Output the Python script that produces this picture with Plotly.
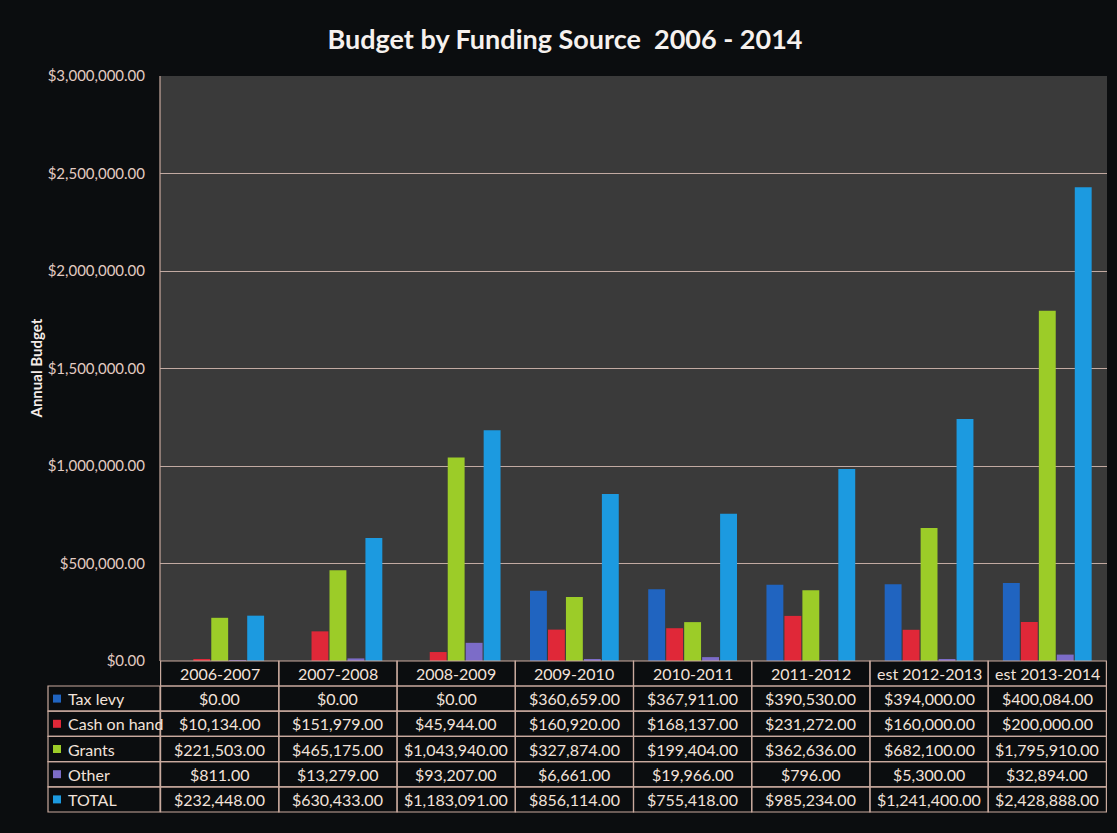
import plotly.graph_objects as go

categories = ["2006-2007", "2007-2008", "2008-2009", "2009-2010", "2010-2011",
              "2011-2012", "est 2012-2013", "est 2013-2014"]
tax_levy = [0, 0, 0, 360659, 367911, 390530, 394000, 400084]
cash_on_hand = [10134, 151979, 45944, 160920, 168137, 231272, 160000, 200000]
grants = [221503, 465175, 1043940, 327874, 199404, 362636, 682100, 1795910]
other = [811, 13279, 93207, 6661, 19966, 796, 5300, 32894]
total = [232448, 630433, 1183091, 856114, 755418, 985234, 1241400, 2428888]

series_names = ["Tax levy", "Cash on hand", "Grants", "Other", "TOTAL"]
series_values = [tax_levy, cash_on_hand, grants, other, total]
series_colors = ["#2064c0", "#e02838", "#9ccc28", "#7c6cc8", "#1c9ae0"]

y_ticks = [0, 500000, 1000000, 1500000, 2000000, 2500000, 3000000]

W, H = 1117, 833
L, R, T, B = 160, 1107, 76, 661
FONT = "Lato"
TXT = "#f2e2da"
LINE = "#c9aa9e"
TSIZE = 16

def py(p):
    return (B - p) / (B - T)

def px(p):
    return (p - L) / (R - L)

fig = go.Figure()
for name, vals, col in zip(series_names, series_values, series_colors):
    fig.add_trace(go.Bar(x=categories, y=vals, name=name,
                         marker=dict(color=col, line=dict(width=0))))

shapes = []
annotations = []
n = len(categories)
header_top, header_bot = B, 686
row_h = (812 - header_bot) / len(series_names)

for i in range(n):
    shapes.append(dict(type="rect", xref="x", yref="paper",
                       x0=i - 0.5, x1=i + 0.5, y0=py(header_bot), y1=py(header_top),
                       line=dict(color=LINE, width=1.2), fillcolor="rgba(0,0,0,0)"))
    annotations.append(dict(x=categories[i], xref="x", yref="paper",
                            y=py((header_top + header_bot) / 2), text=categories[i],
                            xanchor="center", yanchor="middle",
                            showarrow=False, font=dict(family=FONT, size=TSIZE, color=TXT)))

for r, (name, vals, col) in enumerate(zip(series_names, series_values, series_colors)):
    top = header_bot + r * row_h
    bot = top + row_h
    mid = (top + bot) / 2
    shapes.append(dict(type="rect", xref="paper", yref="paper",
                       x0=px(48), x1=0, y0=py(bot), y1=py(top),
                       line=dict(color=LINE, width=1.2), fillcolor="rgba(0,0,0,0)"))
    shapes.append(dict(type="rect", xref="paper", yref="paper",
                       x0=px(53), x1=px(61), y0=py(mid + 4), y1=py(mid - 4),
                       line=dict(width=0), fillcolor=col))
    annotations.append(dict(x=px(66), xref="paper", yref="paper", y=py(mid),
                            text=name, xanchor="left", yanchor="middle", showarrow=False,
                            font=dict(family=FONT, size=TSIZE, color=TXT)))
    for i in range(n):
        shapes.append(dict(type="rect", xref="x", yref="paper",
                           x0=i - 0.5, x1=i + 0.5, y0=py(bot), y1=py(top),
                           line=dict(color=LINE, width=1.2), fillcolor="rgba(0,0,0,0)"))
        annotations.append(dict(x=categories[i], xref="x", yref="paper", y=py(mid),
                                text="${:,.2f}".format(vals[i]), showarrow=False,
                                xanchor="center", yanchor="middle",
                                font=dict(family=FONT, size=TSIZE, color=TXT)))

shapes.append(dict(type="line", xref="paper", yref="paper", x0=0, x1=0, y0=0, y1=1,
                   line=dict(color=LINE, width=1.2)))

annotations.append(dict(x=px(35), y=0.5, xref="paper", yref="paper",
                        text="<b>Annual Budget</b>", textangle=-90, showarrow=False,
                        xanchor="center", yanchor="middle",
                        font=dict(family=FONT, size=15, color="#f4ece8")))

fig.update_layout(
    width=W, height=H,
    margin=dict(l=L, r=W - R, t=T, b=H - B, pad=0),
    paper_bgcolor="#0b0d0f",
    plot_bgcolor="#3a3a3a",
    barmode="group", bargap=0.24, bargroupgap=0.06,
    showlegend=False,
    title=dict(text="<b>Budget by Funding Source  2006 - 2014</b>",
               xref="container", x=565 / W, xanchor="center",
               y=1 - 40 / H, yanchor="middle",
               font=dict(family=FONT, size=27, color="#f6f1ee")),
    xaxis=dict(showticklabels=False, showgrid=False, zeroline=False, ticks=""),
    yaxis=dict(range=[0, 3000000], tickvals=y_ticks,
               ticktext=["${:,.2f}".format(v) for v in y_ticks],
               showgrid=True, gridcolor="#c2aaa2", gridwidth=1.2, zeroline=False,
               ticks="", ticklabelstandoff=14,
               tickfont=dict(family=FONT, size=15, color="#e2cbc2")),
    shapes=shapes, annotations=annotations,
)

fig.write_html("out.html")
